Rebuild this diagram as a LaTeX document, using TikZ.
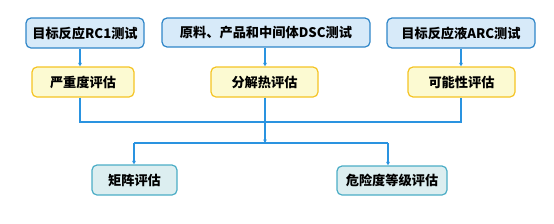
\documentclass[tikz,border=0pt]{standalone}
\usepackage{fontspec}
\setmainfont{Noto Sans CJK SC}
\usetikzlibrary{arrows.meta}
\definecolor{lineblue}{HTML}{2A93E0}
\definecolor{topfill}{HTML}{D7EAF9}
\definecolor{topdraw}{HTML}{2F86C8}
\definecolor{midfill}{HTML}{FCFAD2}
\definecolor{middraw}{HTML}{F5C423}
\definecolor{botfill}{HTML}{DCEEF0}
\definecolor{botdraw}{HTML}{4BADC6}
\tikzset{
  box/.style={rounded corners=5pt, line width=1.2pt, inner sep=0pt, font=\fontsize{13.2}{15}\selectfont\bfseries},
  topbox/.style={box, fill=topfill, draw=topdraw},
  midbox/.style={box, fill=midfill, draw=middraw},
  botbox/.style={box, fill=botfill, draw=botdraw},
  conn/.style={draw=lineblue, line width=1.1pt},
  arr/.style={conn, -{Triangle[length=3.5pt,width=3.5pt]}},
}
\begin{document}
\begin{tikzpicture}[x=1pt,y=-1pt]
\useasboundingbox (0,0) rectangle (554,223);
\node[topbox, minimum width=118pt, minimum height=30pt] (t1) at (85,33) {目标反应RC1测试};
\node[topbox, minimum width=208pt, minimum height=29pt] (t2) at (266,32.5) {原料、产品和中间体DSC测试};
\node[topbox, minimum width=148pt, minimum height=30pt] (t3) at (461,33) {目标反应液ARC测试};
\node[midbox, minimum width=102pt, minimum height=30pt] (m1) at (83,82) {严重度评估};
\node[midbox, minimum width=107pt, minimum height=30pt] (m2) at (264.5,82) {分解热评估};
\node[midbox, minimum width=107pt, minimum height=30pt] (m3) at (461.5,82) {可能性评估};
\node[botbox, minimum width=85pt, minimum height=30pt] (b1) at (134.5,180) {矩阵评估};
\node[botbox, minimum width=110pt, minimum height=29pt] (b2) at (392,180.5) {危险度等级评估};
\coordinate (j1) at (80,122);
\coordinate (j3) at (461,122);
\coordinate (jc) at (265,122);
\coordinate (kc) at (265,143);
\coordinate (kl) at (134,143);
\coordinate (kr) at (388,143);
\draw[arr] (t1.south -| j1) -- (m1.north -| j1);
\draw[arr] (t2.south -| jc) -- (m2.north -| jc);
\draw[arr] (t3.south -| j3) -- (m3.north -| j3);
\draw[conn] (m1.south -| j1) -- (j1) -- (j3) -- (m3.south -| j3);
\draw[conn] (m2.south -| jc) -- (jc);
\draw[arr] (jc) -- (kc);
\draw[conn] (kl) -- (kr);
\draw[arr] (kl) -- (b1.north -| kl);
\draw[arr] (kr) -- (b2.north -| kr);
\end{tikzpicture}
\end{document}
